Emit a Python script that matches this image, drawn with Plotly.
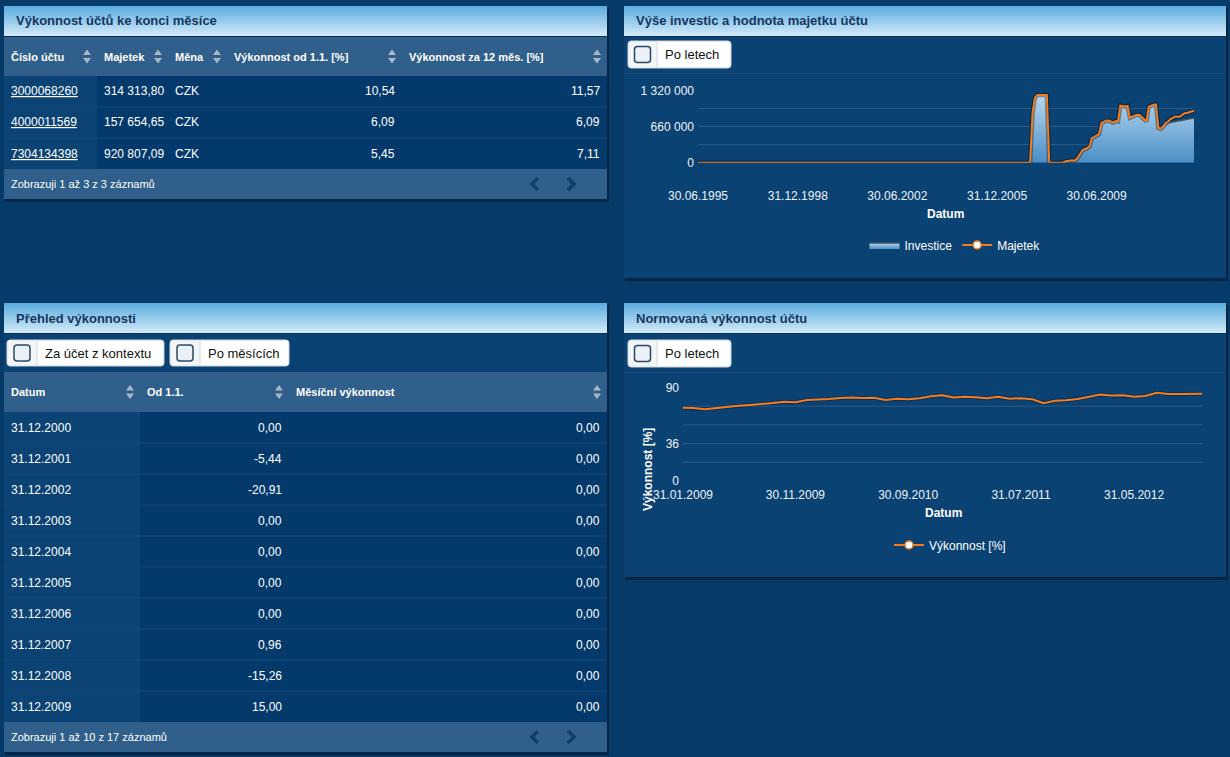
import pandas as pd
import plotly.graph_objects as go

W, H = 1230, 757
FONT = "Liberation Sans, Arial, sans-serif"

PAGE_BG = "#053a69"
PANEL_BG = "#0a4273"
ROW_BG = "#033a6b"
SORTED_BG = "#0a4374"
BAR_BG = "#2f5f8a"
SEP = "#164878"
ORANGE = "#f47c20"
SHADOW = "rgba(0,0,0,0.35)"

# --- table 1: account performance at month end ---
acct_header = ["Číslo účtu", "Majetek", "Měna", "Výkonnost od 1.1. [%]", "Výkonnost za 12 měs. [%]"]
acct_numbers = ["3000068260", "4000011569", "7304134398"]
acct_assets = ["314 313,80", "157 654,65", "920 807,09"]
acct_currency = ["CZK", "CZK", "CZK"]
acct_ytd = ["10,54", "6,09", "5,45"]
acct_12m = ["11,57", "6,09", "7,11"]
acct_footer = "Zobrazuji 1 až 3 z 3 záznamů"

# --- table 2: performance overview ---
perf_header = ["Datum", "Od 1.1.", "Měsíční výkonnost"]
perf_dates = ["31.12.2000", "31.12.2001", "31.12.2002", "31.12.2003", "31.12.2004",
              "31.12.2005", "31.12.2006", "31.12.2007", "31.12.2008", "31.12.2009"]
perf_ytd = ["0,00", "-5,44", "-20,91", "0,00", "0,00", "0,00", "0,00", "0,96", "-15,26", "15,00"]
perf_monthly = ["0,00", "0,00", "0,00", "0,00", "0,00", "0,00", "0,00", "0,00", "0,00", "0,00"]
perf_footer = "Zobrazuji 1 až 10 z 17 záznamů"

# --- chart 1: investments and account assets ---
early_dates = ["1995-06-30", "2007-02-28", "2007-03-31", "2007-04-30", "2007-05-31", "2007-06-30",
               "2007-07-31", "2007-08-31", "2007-09-30", "2007-10-31", "2008-04-30"]
monthly_dates = [d.strftime("%Y-%m-%d") for d in pd.date_range("2008-05-31", "2012-11-30", freq="ME")]
asset_dates = early_dates + monthly_dates
majetek = [0, 0, 905000, 1180000, 1235000, 1235000, 1235000, 1235000, 1235000, 0, 0,
           25000, 38000, 40000, 42000, 45000, 90000, 170000, 232000,
           250000, 262000, 300000, 450000, 470000, 495000, 520000, 725000, 745000, 765000, 770000, 745000,
           730000, 760000, 750000, 1040000, 1030000, 1025000, 1035000, 820000, 840000, 860000, 875000, 870000,
           830000, 800000, 750000, 1020000, 1045000, 1055000, 1058000, 636000, 618000, 660000, 720000, 746000,
           790000, 815000, 838000, 840000, 838000, 870000, 900000, 905000, 915000, 925000, 948000]
investice = [0, 0, 905000, 1180000, 1235000, 1235000, 1235000, 1235000, 1235000, 0, 0,
             25000, 38000, 40000, 42000, 45000, 90000, 170000, 232000,
             250000, 262000, 300000, 450000, 470000, 495000, 520000, 725000, 745000, 765000, 770000, 745000,
             730000, 760000, 750000, 1040000, 1030000, 1025000, 1035000, 820000, 840000, 860000, 875000, 870000,
             830000, 800000, 750000, 1020000, 1045000, 1055000, 1058000, 636000, 618000, 660000, 720000, 730000,
             738000, 745000, 752000, 760000, 768000, 775000, 783000, 790000, 798000, 806000, 814000]
asset_xticks = ["1995-06-30", "1998-12-31", "2002-06-30", "2005-12-31", "2009-06-30"]
asset_xlabels = ["30.06.1995", "31.12.1998", "30.06.2002", "31.12.2005", "30.06.2009"]
asset_yticks = [0, 660000, 1320000]
asset_ylabels = ["0", "660 000", "1 320 000"]
asset_grid = [330000, 660000, 990000]

# --- chart 2: normalised performance ---
norm_dates = [d.strftime("%Y-%m-%d") for d in pd.date_range("2009-01-31", "2012-11-30", freq="ME")]
vykonnost = [70.5, 70.2, 69.0, 70.3, 71.5, 72.5, 73.2, 74.0, 75.0, 76.3, 75.8, 78.0,
             78.4, 79.0, 80.0, 80.3, 79.8, 80.2, 78.0, 79.2, 78.8, 79.6, 81.5, 82.6,
             80.3, 81.0, 80.6, 79.6, 81.0, 79.2, 79.7, 78.6, 74.8, 77.3, 77.8, 79.0,
             81.0, 83.2, 82.4, 82.5, 81.0, 81.8, 85.0, 83.8, 83.8, 83.6, 84.0]
norm_xticks = ["2009-01-31", "2009-11-30", "2010-09-30", "2011-07-31", "2012-05-31"]
norm_xlabels = ["31.01.2009", "30.11.2009", "30.09.2010", "31.07.2011", "31.05.2012"]
norm_yticks = [0, 36, 90]
norm_grid = [18, 36, 54, 72]


def px(x):
    return x / W


def py(y):
    return 1 - y / H


shapes = []
annotations = []


def rect(x0, y0, x1, y1, fill, line_color=None, lw=0):
    shapes.append(dict(type="rect", xref="paper", yref="paper", layer="below",
                       x0=px(x0), x1=px(x1), y0=py(y1), y1=py(y0), fillcolor=fill,
                       line=dict(width=lw, color=line_color or fill)))


def path(d, fill=None, line_color=None, lw=0):
    shapes.append(dict(type="path", xref="paper", yref="paper", layer="below", path=d,
                       fillcolor=fill or "rgba(0,0,0,0)",
                       line=dict(width=lw, color=line_color or "rgba(0,0,0,0)")))


def pt(x, y):
    return f"{px(x):.5f},{py(y):.5f}"


def rrect(x0, y0, x1, y1, r):
    return (f"M{pt(x0 + r, y0)} L{pt(x1 - r, y0)} Q{pt(x1, y0)} {pt(x1, y0 + r)} "
            f"L{pt(x1, y1 - r)} Q{pt(x1, y1)} {pt(x1 - r, y1)} L{pt(x0 + r, y1)} "
            f"Q{pt(x0, y1)} {pt(x0, y1 - r)} L{pt(x0, y0 + r)} Q{pt(x0, y0)} {pt(x0 + r, y0)} Z")


def label(x, y, s, size=12, color="#ffffff", anchor="left", bold=False, angle=0):
    annotations.append(dict(xref="paper", yref="paper", x=px(x), y=py(y),
                            text=f"<b>{s}</b>" if bold else s, showarrow=False,
                            xanchor=anchor, yanchor="middle", textangle=angle,
                            font=dict(family=FONT, size=size, color=color)))


def mix(c1, c2, t):
    a = [int(c1[i:i + 2], 16) for i in (1, 3, 5)]
    b = [int(c2[i:i + 2], 16) for i in (1, 3, 5)]
    return "#" + "".join(f"{round(a[i] + (b[i] - a[i]) * t):02x}" for i in range(3))


def panel(x0, y0, x1, y1, title):
    # drop shadow + body
    rect(x0 + 1, y0 + 2, x1 + 2, y1 + 3, "rgba(0,0,0,0.35)")
    rect(x0, y0, x1, y1, PANEL_BG)
    # gradient title bar, stacked so there are no seams
    n = 15
    for i in range(n):
        rect(x0, y0 + i * 2, x1, y0 + 30, mix("#5eaedf", "#cfe8f8", i / (n - 1)))
    rect(x0, y0 + 30, x1, y0 + 31, "#0d2f55")
    label(x0 + 10, y0 + 15, title, size=13, color="#16375e", bold=True)


def sort_arrows(cx, cy):
    c = "#a9b8c8"
    path(f"M{pt(cx - 4, cy - 1.5)} L{pt(cx + 4, cy - 1.5)} L{pt(cx, cy - 7)} Z", fill=c)
    path(f"M{pt(cx - 4, cy + 1.5)} L{pt(cx + 4, cy + 1.5)} L{pt(cx, cy + 7)} Z", fill=c)


def pager(cy):
    c = "#113e6c"
    path(f"M{pt(538, cy - 6)} L{pt(532, cy)} L{pt(538, cy + 6)}", line_color=c, lw=3.5)
    path(f"M{pt(568, cy - 6)} L{pt(574, cy)} L{pt(568, cy + 6)}", line_color=c, lw=3.5)


def check_button(x0, y0, x1, y1, div_x, text):
    path(rrect(x0, y0, x1, y1, 3), fill="#ffffff", line_color="#c7d1db", lw=1)
    path(rrect(x0 + 1, y0 + 1, div_x, y1 - 1, 2), fill="#f3f6f9")
    shapes.append(dict(type="line", xref="paper", yref="paper", layer="below",
                       x0=px(div_x), x1=px(div_x), y0=py(y0 + 1), y1=py(y1 - 1),
                       line=dict(color="#d2d9e0", width=1)))
    cx, cy = (x0 + div_x) / 2, (y0 + y1) / 2
    path(rrect(cx - 8, cy - 8, cx + 8, cy + 8, 3), fill="#eaf1f8", line_color="#2c4866", lw=1.5)
    label(div_x + 6, cy, text, size=13, color="#111111")


def table(cols, top, header, rows, aligns, sorted_col, footer, row_h=31, head_h=40):
    x0, x1 = cols[0], cols[-1]
    rect(x0, top, x1, top + head_h, BAR_BG)
    for j, h in enumerate(header):
        label(cols[j] + 5, top + head_h / 2, h, size=11, bold=True)
        sort_arrows(cols[j + 1] - 10, top + head_h / 2)
    y = top + head_h
    body_bottom = y + row_h * len(rows)
    rect(x0, y, x1, body_bottom, ROW_BG)
    rect(cols[sorted_col], y, cols[sorted_col + 1], body_bottom, SORTED_BG)
    for i, row in enumerate(rows):
        cy = y + row_h * i + row_h / 2
        if i > 0:
            rect(x0, y + row_h * i - 0.5, x1, y + row_h * i + 0.5, SEP)
        for j, val in enumerate(row):
            if aligns[j] == "right":
                label(cols[j + 1] - 5, cy, val, size=12, anchor="right")
            else:
                label(cols[j] + 5, cy, val, size=12)
    rect(x0, body_bottom, x1, body_bottom + 30, BAR_BG)
    label(x0 + 5, body_bottom + 15, footer, size=11)
    pager(body_bottom + 15)


# page layout
panel(4, 6, 607, 199, "Výkonnost účtů ke konci měsíce")
panel(624, 6, 1226, 278, "Výše investic a hodnota majetku účtu")
panel(4, 303, 607, 752, "Přehled výkonnosti")
panel(624, 303, 1226, 577, "Normovaná výkonnost účtu")

acct_rows = [[f"<u>{acct_numbers[i]}</u>", acct_assets[i], acct_currency[i], acct_ytd[i], acct_12m[i]]
             for i in range(len(acct_numbers))]
table([4, 97, 168, 227, 402, 607], 37, acct_header, acct_rows,
      ["left", "left", "left", "right", "right"], 0, acct_footer, head_h=39)

perf_rows = [[perf_dates[i], perf_ytd[i], perf_monthly[i]] for i in range(len(perf_dates))]
check_button(7, 340, 164, 366, 37, "Za účet z kontextu")
check_button(170, 340, 289, 366, 200, "Po měsících")
table([4, 140, 289, 607], 372, perf_header, perf_rows, ["left", "right", "right"], 0, perf_footer)

check_button(628, 41, 731, 68, 657, "Po letech")
check_button(628, 340, 731, 367, 657, "Po letech")
rect(624, 73, 1226, 74, "#154c7c")
rect(624, 372, 1226, 373, "#154c7c")

for v in asset_grid:
    shapes.append(dict(type="line", xref="x domain", yref="y", x0=0, x1=1, y0=v, y1=v,
                       layer="below", line=dict(color="#2b5983", width=1)))
for v in norm_grid:
    shapes.append(dict(type="line", xref="x2 domain", yref="y2", x0=0, x1=1, y0=v, y1=v,
                       layer="below", line=dict(color="#2b5983", width=1)))

label(945, 214, "Datum", size=12, anchor="center", bold=True)
label(943, 513, "Datum", size=12, anchor="center", bold=True)
label(648, 470, "Výkonnost [%]", size=12, anchor="center", bold=True, angle=-90)

fig = go.Figure()

fig.add_trace(go.Scatter(
    x=asset_dates, y=investice, name="Investice", mode="lines", fill="tozeroy",
    line=dict(color="#3d5064", width=1.5),
    fillgradient=dict(type="vertical", colorscale=[[0, "#4b8fc6"], [1, "#b9d8ef"]]),
    xaxis="x", yaxis="y", legend="legend",
))
# soft dark shadow under the orange line
fig.add_trace(go.Scatter(
    x=asset_dates, y=majetek, mode="lines", showlegend=False, hoverinfo="skip",
    line=dict(color=SHADOW, width=4.5), xaxis="x", yaxis="y",
))
fig.add_trace(go.Scatter(
    x=asset_dates, y=majetek, name="Majetek", mode="lines", showlegend=False,
    line=dict(color=ORANGE, width=2), xaxis="x", yaxis="y",
))
fig.add_trace(go.Scatter(
    x=[None], y=[None], name="Majetek", mode="lines+markers",
    line=dict(color=ORANGE, width=2),
    marker=dict(color="#ffffff", size=8, line=dict(color=ORANGE, width=1.5)),
    xaxis="x", yaxis="y", legend="legend",
))

fig.add_trace(go.Scatter(
    x=norm_dates, y=vykonnost, mode="lines", showlegend=False, hoverinfo="skip",
    line=dict(color="rgba(0,0,0,0.25)", width=4), xaxis="x2", yaxis="y2",
))
fig.add_trace(go.Scatter(
    x=norm_dates, y=vykonnost, name="Výkonnost [%]", mode="lines", showlegend=False,
    line=dict(color=ORANGE, width=2), xaxis="x2", yaxis="y2",
))
fig.add_trace(go.Scatter(
    x=[None], y=[None], name="Výkonnost [%]", mode="lines+markers",
    line=dict(color=ORANGE, width=2),
    marker=dict(color="#ffffff", size=8, line=dict(color=ORANGE, width=1.5)),
    xaxis="x2", yaxis="y2", legend="legend2",
))

tickfont = dict(family=FONT, size=12, color="#eef2f6")
axis_common = dict(showgrid=False, zeroline=False, showline=False, ticks="", tickfont=tickfont,
                   fixedrange=True, automargin=False)

fig.update_layout(
    width=W, height=H, margin=dict(l=0, r=0, t=0, b=0, pad=0), autosize=False,
    paper_bgcolor=PAGE_BG, plot_bgcolor="rgba(0,0,0,0)",
    font=dict(family=FONT, color="#ffffff"),
    xaxis=dict(domain=[px(698), px(1194)], range=["1995-06-30", "2012-11-30"], type="date",
               tickvals=asset_xticks, ticktext=asset_xlabels, anchor="y",
               ticklabelstandoff=24, **axis_common),
    yaxis=dict(domain=[py(162.7), py(90.3)], range=[0, 1320000], tickvals=asset_yticks,
               ticktext=asset_ylabels, anchor="x", ticklabelstandoff=3, **axis_common),
    xaxis2=dict(domain=[px(683), px(1202)], range=["2009-01-31", "2012-11-30"], type="date",
                tickvals=norm_xticks, ticktext=norm_xlabels, anchor="y2",
                ticklabelstandoff=5, **axis_common),
    yaxis2=dict(domain=[py(481), py(387.5)], range=[0, 90], tickvals=norm_yticks,
                ticktext=[str(v) for v in norm_yticks], anchor="x2", ticklabelstandoff=3,
                **axis_common),
    legend=dict(orientation="h", x=px(955), y=py(245), xanchor="center", yanchor="middle",
                bgcolor="rgba(0,0,0,0)", font=dict(family=FONT, size=12, color="#ffffff"),
                itemwidth=30),
    legend2=dict(orientation="h", x=px(950), y=py(545), xanchor="center", yanchor="middle",
                 bgcolor="rgba(0,0,0,0)", font=dict(family=FONT, size=12, color="#ffffff"),
                 itemwidth=30),
    shapes=shapes,
    annotations=annotations,
    showlegend=True,
)

fig.write_html("out.html", config={"displayModeBar": False},
               post_script="document.body.style.margin='0px';")
